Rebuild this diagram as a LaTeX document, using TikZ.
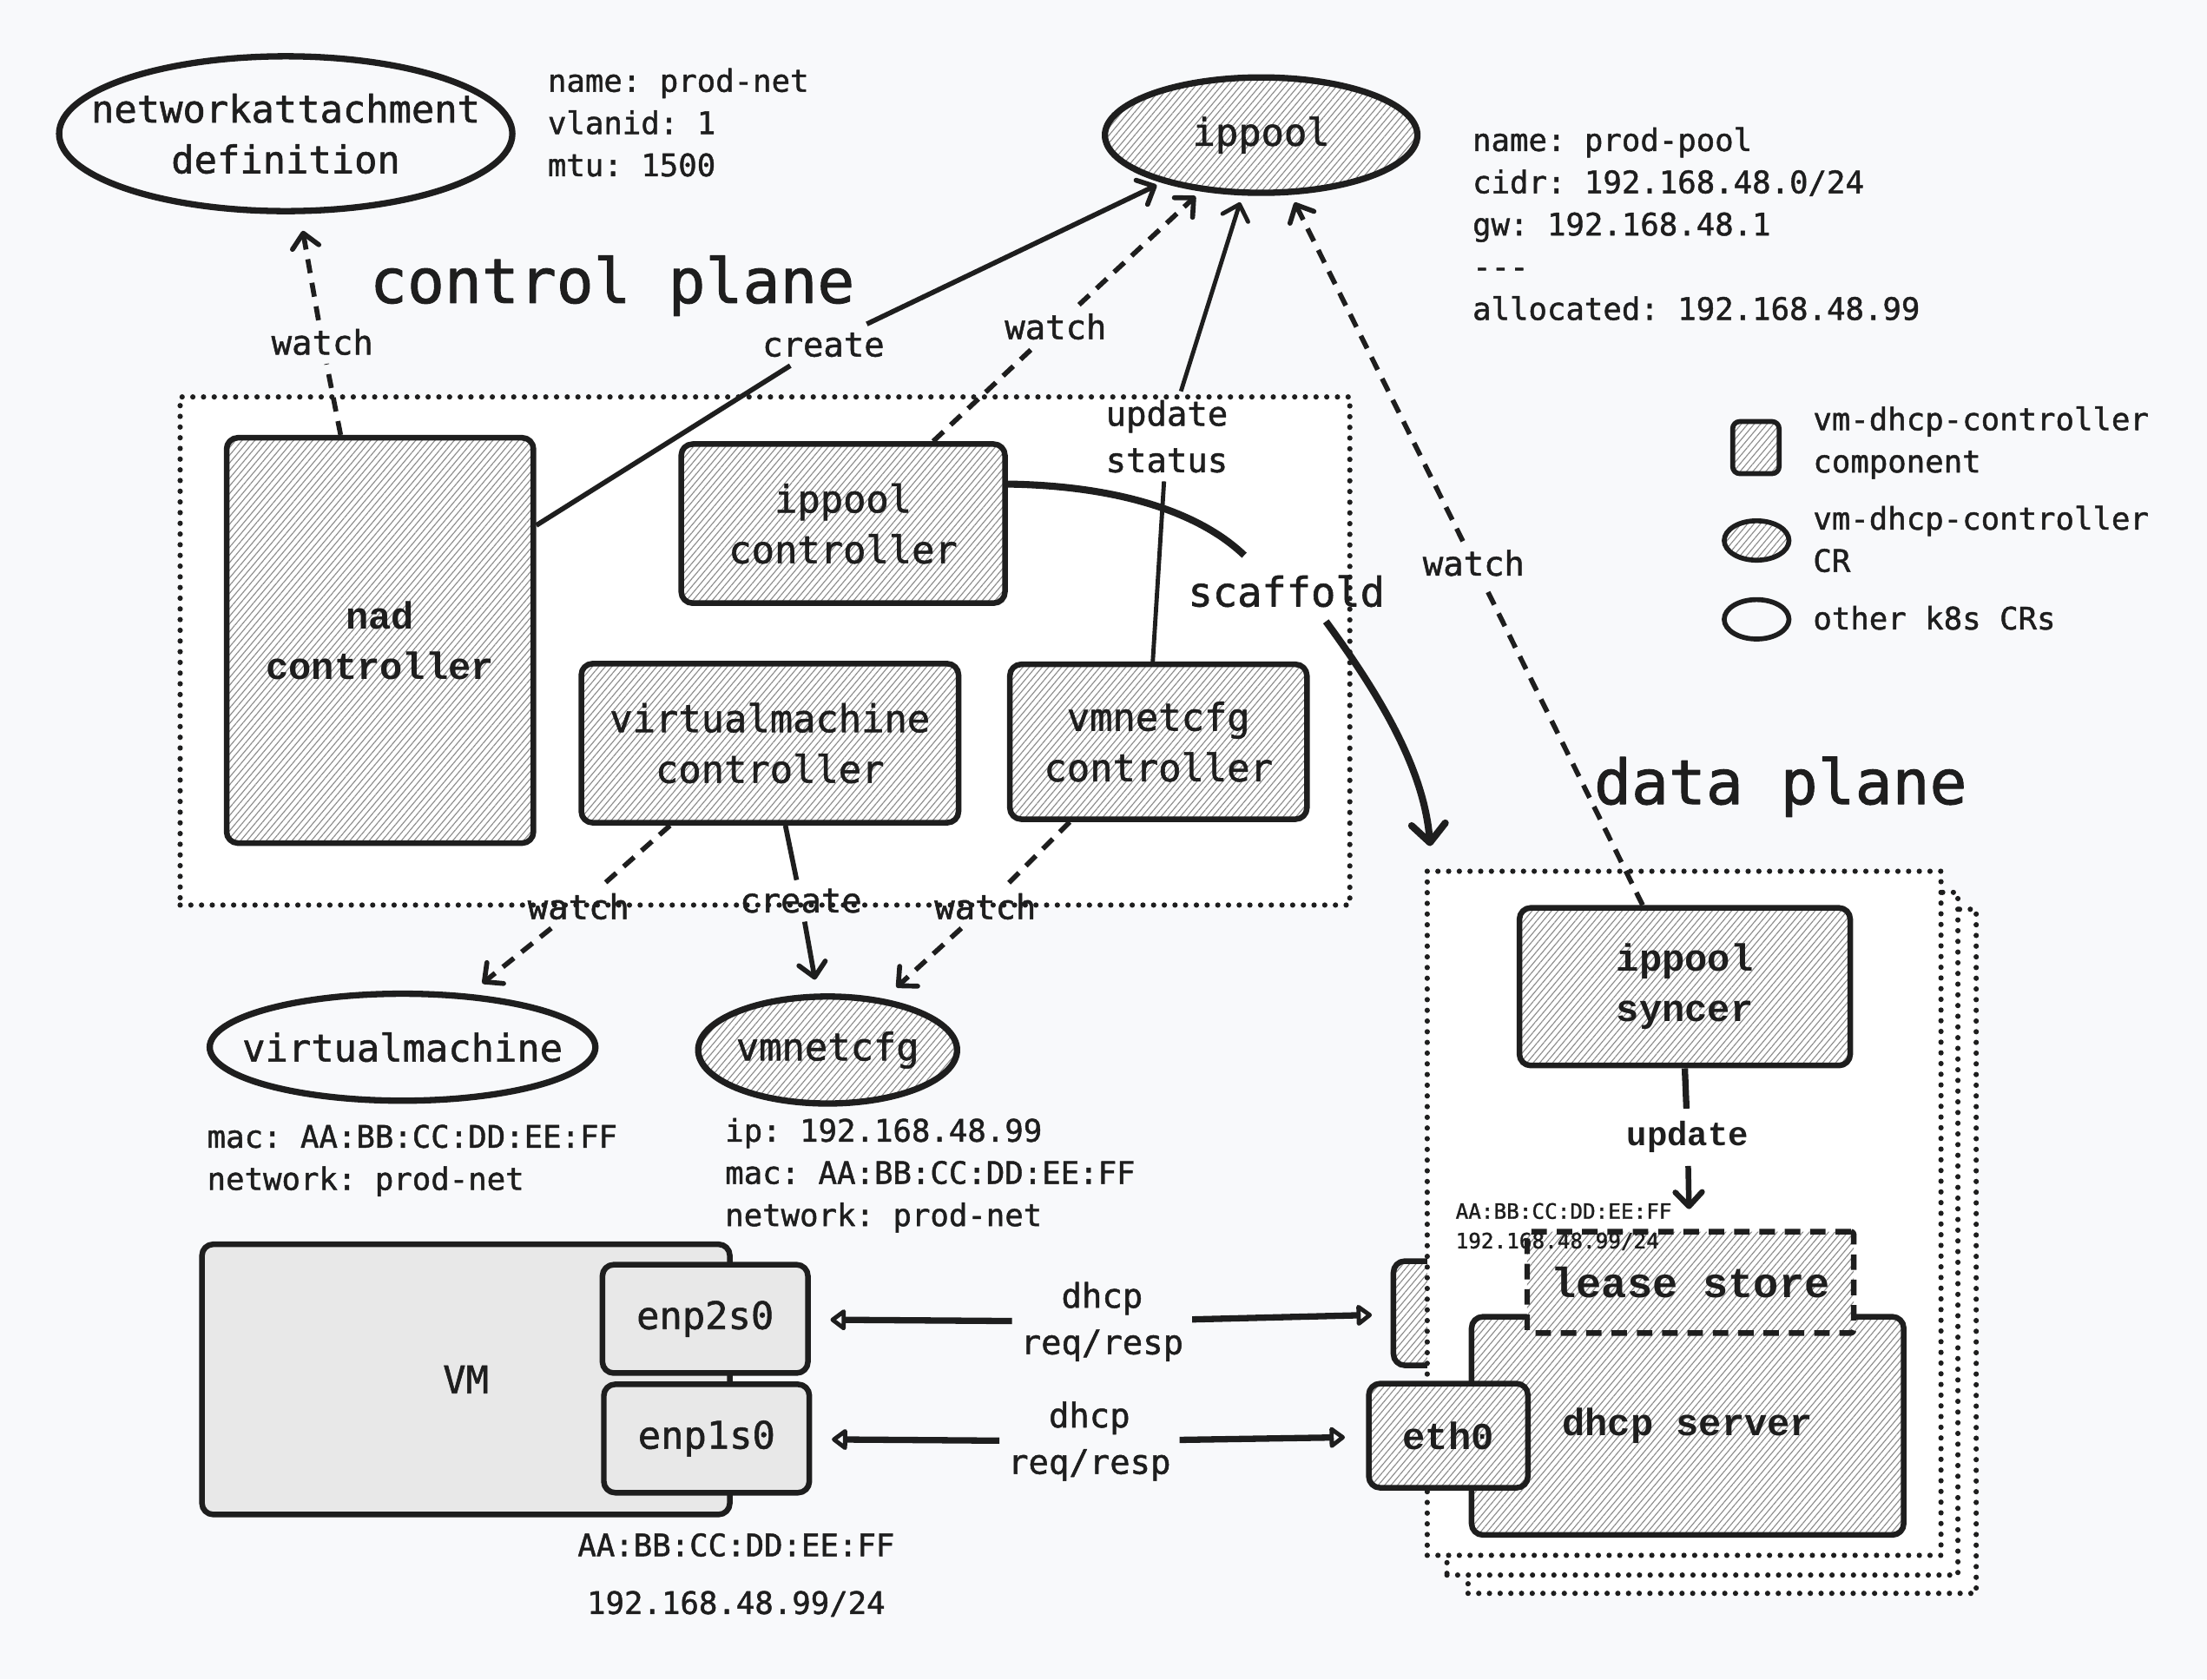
\documentclass[tikz,border=0pt]{standalone}
\usepackage{fontspec}
\usetikzlibrary{arrows.meta,patterns.meta,shapes.geometric,calc,positioning}
\newfontfamily\plexmono[FakeBold=1.3]{DejaVu Sans Mono}
\newfontfamily\courmono{Liberation Mono}
\definecolor{paper}{HTML}{F8F9FB}
\definecolor{ink}{HTML}{1E1E1E}
\definecolor{vmfill}{HTML}{E8E8E8}
\frenchspacing

\tikzset{
  hatch/.style={preaction={fill=white}, pattern={Lines[angle=50,distance=3.5pt,line width=0.7pt]}, pattern color=black!45},
  box/.style={draw=ink, line width=4pt, rounded corners=8pt, inner sep=0pt},
  comp/.style={box, hatch, font=\fontsize{27}{36}\selectfont\plexmono, align=center},
  ccomp/.style={box, hatch, font=\fontsize{27}{36}\selectfont\courmono\bfseries, align=center},
  vmbox/.style={box, fill=vmfill, font=\fontsize{27}{36}\selectfont\plexmono, align=center},
  cr/.style={ellipse, draw=ink, line width=4.5pt, hatch, inner sep=0pt, font=\fontsize{27}{36}\selectfont\plexmono},
  k8s/.style={ellipse, draw=ink, line width=4.5pt, inner sep=0pt},
  crtext/.style={font=\fontsize{27}{36}\selectfont\plexmono, align=center},
  plane/.style={draw=ink, line width=3.8pt, dash pattern=on 0pt off 7.6pt, line cap=round, fill=white, inner sep=0pt},
  info/.style={font=\fontsize{22}{30}\selectfont\plexmono, align=left, anchor=west, inner sep=0pt},
  bigtitle/.style={font=\fontsize{44}{50}\selectfont\plexmono},
  elabel/.style={font=\fontsize{24}{33}\selectfont\plexmono, align=center, inner sep=6pt},
  wline/.style={draw=ink, line width=3.5pt, dash pattern=on 10pt off 7pt},
  aline/.style={draw=ink, line width=3.5pt},
  barb/.style={-{Straight Barb[length=10pt,width=19pt,round]}},
  dhcpline/.style={draw=ink, line width=4.5pt, -{Triangle[open,length=12pt,width=17pt,round]}},
}

\begin{document}
\begin{tikzpicture}[x=1pt,y=-1pt,line join=round,every node/.append style={text=ink}]
\useasboundingbox[fill=paper] (0,0) rectangle (1568,1193);

% planes
\node[plane, minimum width=831pt, minimum height=361pt] (cplane) at (543.5,462.5) {};
\node[plane, minimum width=361pt, minimum height=486pt] (dpback) at (1223.5,889) {};
\node[plane, minimum width=363pt, minimum height=485pt] (dpmid) at (1209.5,876.5) {};
\node[box, hatch, minimum width=68pt, minimum height=74pt] (peernic) at (1024,933) {};
\node[plane, minimum width=365pt, minimum height=486pt] (dpfront) at (1196.5,862) {};

\node[bigtitle] (cptitle) at (435,203) {control plane};
\node[bigtitle] (dptitle) at (1265,559) {data plane};

% custom resources
\node[k8s, minimum width=322pt, minimum height=110pt] (nad) at (203,95) {};
\node[crtext] (nadtxt) at (nad.center) {networkattachment\\definition};
\node[info] (nadinfo) at (389,87) {name: prod-net\\vlanid: 1\\mtu: 1500};

\node[cr, minimum width=222pt, minimum height=82pt] (ippool) at (896,96) {ippool};
\node[info] (poolinfo) at (1046,159) {name: prod-pool\\cidr: 192.168.48.0/24\\gw: 192.168.48.1\\-{}-{}-\\allocated: 192.168.48.99};

\node[k8s, minimum width=274pt, minimum height=76pt] (vm) at (286,744) {};
\node[crtext] (vmtxt) at (vm.center) {virtualmachine};
\node[info] (vminfo) at (147,824.5) {mac: AA:BB:CC:DD:EE:FF\\network: prod-net};

\node[cr, minimum width=180pt, minimum height=76pt] (vmnet) at (588,746) {vmnetcfg};
\node[info] (netinfo) at (515,835) {ip: 192.168.48.99\\mac: AA:BB:CC:DD:EE:FF\\network: prod-net};

% controllers
\node[ccomp, minimum width=218pt, minimum height=288pt] (nadctl) at (270,455) {nad\\controller};
\node[comp, minimum width=230pt, minimum height=113pt] (ippoolctl) at (599,372) {ippool\\controller};
\node[comp, minimum width=268pt, minimum height=113pt] (vmctl) at (547,528) {virtualmachine\\controller};
\node[comp, minimum width=211pt, minimum height=110pt] (vmnetctl) at (823,527) {vmnetcfg\\controller};

% vm
\node[vmbox, minimum width=375pt, minimum height=192pt] (vmhost) at (331,980) {VM};
\node[vmbox, minimum width=146pt, minimum height=77pt] (enp2) at (501,937) {enp2s0};
\node[vmbox, minimum width=146pt, minimum height=77pt] (enp1) at (502,1022) {enp1s0};
\node[info, anchor=center, align=center, font=\fontsize{22}{41}\selectfont\plexmono] (vmaddr) at (523,1119) {AA:BB:CC:DD:EE:FF\\192.168.48.99/24};

% data plane
\node[ccomp, minimum width=235pt, minimum height=112pt] (syncer) at (1197,701) {ippool\\syncer};
\node[ccomp, minimum width=307pt, minimum height=155pt] (dhcpd) at (1199,1013) {dhcp server};
\node[ccomp, rounded corners=2pt, dash pattern=on 11pt off 7pt, minimum width=232pt, minimum height=72pt, font=\fontsize{30}{36}\selectfont\courmono\bfseries] (lease) at (1201,911) {lease store};
\node[ccomp, minimum width=113pt, minimum height=74pt] (eth0) at (1029,1020) {eth0};
\node[info, font=\fontsize{15}{21}\selectfont\plexmono] (leaseaddr) at (1034,871.5) {AA:BB:CC:DD:EE:FF\\192.168.48.99/24};

% legend
\node[box, hatch, line width=3.5pt, rounded corners=5pt, minimum width=33pt, minimum height=37pt] (lgcomp) at (1247.5,318) {};
\node[info] (lgcomptxt) at (1288,314.5) {vm-dhcp-controller\\component};
\node[ellipse, draw=ink, line width=3.5pt, hatch, inner sep=0pt, minimum width=46pt, minimum height=28pt] (lgcr) at (1248,384) {};
\node[info] (lgcrtxt) at (1288,383) {vm-dhcp-controller\\CR};
\node[k8s, line width=3.5pt, minimum width=46pt, minimum height=28pt] (lgk8s) at (1248,440) {};
\node[info] (lgk8stxt) at (1288,439) {other k8s CRs};

% connectors, upper part
\node[elabel] (wnad) at (229,243) {watch};
\draw[wline] ([xshift=-28pt]nadctl.north) -- (wnad);
\draw[wline,barb,shorten >=12pt] (wnad) -- (nad);

\node[elabel] (cnad) at (585,245) {create};
\draw[aline] ($(nadctl.north east)!0.22!(nadctl.south east)$) -- (cnad);
\draw[aline,barb,shorten >=4pt] (cnad) -- (ippool);

\node[elabel] (wpool) at (750,232) {watch};
\draw[wline] ([xshift=64pt]ippoolctl.north) -- (wpool);
\draw[wline,barb,shorten >=5pt] (wpool) -- (ippool);

\node[elabel] (ustat) at (829,310) {update\\status};
\draw[aline,line width=3pt] ([xshift=-4pt]vmnetctl.north) -- (ustat);
\draw[aline,line width=3pt,barb,shorten >=5pt] (ustat) -- (ippool);

\node[elabel] (wsync) at (1047,400) {watch};
\draw[wline] ([xshift=-30pt]syncer.north) -- (wsync);
\draw[wline,barb,shorten >=6pt] (wsync) -- (ippool);

\node[font=\fontsize{29}{36}\selectfont\plexmono, inner sep=4pt] (scaf) at (914,420) {scaffold};
\coordinate (scaftip) at ([xshift=4pt,yshift=16pt]dpfront.north west);
\draw[draw=ink,line width=5pt] ($(ippoolctl.north east)!0.26!(ippoolctl.south east)$) .. controls (790,345) and (850,362) .. ([xshift=-30pt,yshift=10pt]scaf.north);
\draw[draw=ink,line width=5pt,-{Straight Barb[length=13pt,width=24pt,round]}] ([xshift=28pt,yshift=-6pt]scaf.south) .. controls (985,500) and (1012,550) .. (scaftip);

% connectors, lower part
\node[elabel] (wvm) at (411,644) {watch};
\draw[wline] ([xshift=-71pt]vmctl.south) -- (wvm);
\draw[wline,barb,shorten >=12pt] (wvm) -- (vm);

\node[elabel] (cvm) at (569,640) {create};
\draw[aline] ([xshift=11pt]vmctl.south) -- (cvm);
\draw[aline,barb,shorten >=10pt] (cvm) -- (vmnet);

\node[elabel] (wnet) at (700,644) {watch};
\draw[wline] ([xshift=-63pt]vmnetctl.south) -- (wnet);
\draw[wline,barb,shorten >=12pt] (wnet) -- (vmnet);

\node[elabel, inner ysep=9pt, font=\fontsize{24}{33}\selectfont\courmono\bfseries] (upd) at (1199,808) {update};
\draw[aline,line width=4.5pt] (syncer.south) -- (upd);
\draw[aline,line width=4pt,barb,shorten >=14pt] (upd) -- (lease);

\node[elabel] (dreq1) at (783,939) {dhcp\\req/resp};
\draw[dhcpline,shorten >=14pt] (dreq1) -- (enp2);
\draw[dhcpline,shorten >=15pt] (dreq1) -- (peernic);
\node[elabel] (dreq2) at (774,1024) {dhcp\\req/resp};
\draw[dhcpline,shorten >=14pt] (dreq2) -- (enp1);
\draw[dhcpline,shorten >=15pt] (dreq2) -- (eth0);
\end{tikzpicture}
\end{document}
